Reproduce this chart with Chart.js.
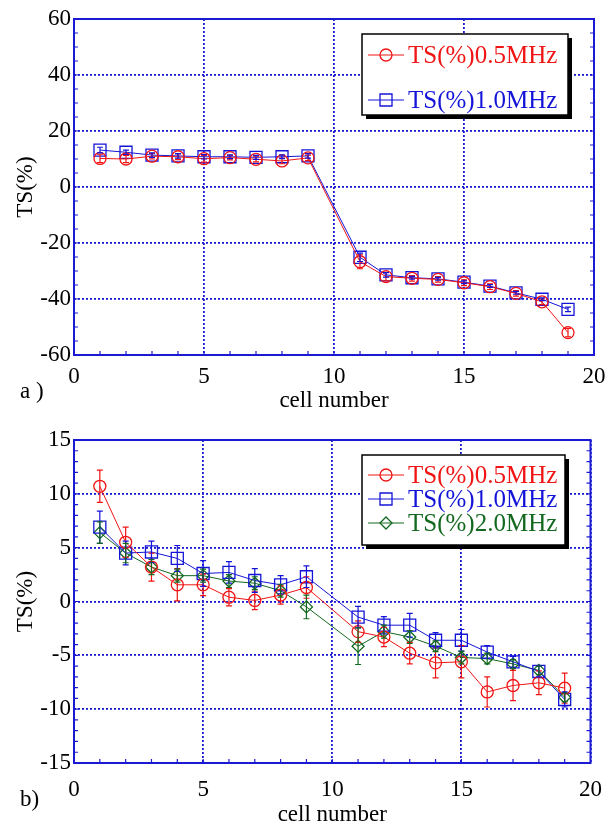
<!DOCTYPE html>
<html lang="en">
<head>
  <meta charset="UTF-8">
  <title>TS(%) vs cell number</title>
  <script src="https://cdn.jsdelivr.net/npm/chart.js"></script>
  <style>
    body { margin: 0; background: #fff; }
    #wrap { position: relative; width: 615px; height: 829px; }
    canvas { position: absolute; left: 0; }
    #chartA { top: 0; }
    #chartB { top: 415px; }
    .tag { position: absolute; left: 20px; font-family: 'Liberation Serif', serif; font-size: 23px; line-height: 26px; color: #000; }
  </style>
</head>
<body>
<div id="wrap">
  <canvas id="chartA" width="615" height="415"></canvas>
  <canvas id="chartB" width="615" height="414"></canvas>
  <div class="tag" style="top:378px">a )</div>
  <div class="tag" style="top:786px">b)</div>
</div>

<script>
  // cell numbers (no cell 10)
  const cells = [1, 2, 3, 4, 5, 6, 7, 8, 9, 11, 12, 13, 14, 15, 16, 17, 18, 19];

  // panel a)
  const tsA_05 = [10.2, 10.0, 11.0, 10.8, 10.1, 10.5, 9.9, 9.3, 10.4, -26.7, -32.0, -32.6, -33.0, -34.2, -35.6, -38.0, -41.0, -52.0];
  const errA_05 = [1.5, 1.3, 1.0, 1.0, 1.2, 0.8, 0.9, 1.0, 1.0, 2.5, 1.5, 1.0, 1.0, 1.0, 1.0, 1.0, 1.0, 1.5];
  const tsA_10 = [13.2, 12.4, 11.4, 11.1, 10.8, 10.8, 10.6, 10.8, 11.1, -25.1, -31.4, -32.4, -32.8, -34.0, -35.4, -37.8, -40.1, -43.7];
  const errA_10 = [1.0, 0.8, 0.8, 0.8, 0.8, 0.7, 0.7, 0.7, 0.8, 1.5, 0.8, 0.5, 0.5, 0.5, 0.5, 0.5, 0.5, 0.8];

  // panel b)
  const tsB_05 = [10.7, 5.5, 3.2, 1.55, 1.55, 0.4, 0.1, 0.6, 1.3, -2.8, -3.3, -4.8, -5.7, -5.6, -8.4, -7.8, -7.55, -8.05];
  const errB_05 = [1.5, 1.4, 1.3, 1.5, 1.0, 0.8, 0.85, 0.85, 1.0, 1.0, 0.9, 1.0, 1.4, 1.5, 1.4, 1.4, 1.1, 1.4];
  const tsB_10 = [6.9, 4.5, 4.6, 4.0, 2.6, 2.7, 1.95, 1.55, 2.3, -1.45, -2.2, -2.2, -3.6, -3.6, -4.7, -5.6, -6.5, -9.1];
  const errB_10 = [1.5, 1.1, 1.0, 1.2, 1.2, 1.0, 1.1, 0.85, 1.0, 1.0, 0.8, 1.1, 0.7, 1.0, 0.6, 0.5, 0.5, 0.7];
  const tsB_20 = [6.4, 4.5, 3.2, 2.4, 2.4, 1.9, 1.7, 1.0, -0.5, -4.15, -2.8, -3.3, -4.15, -5.2, -5.3, -5.8, -6.4, -8.9];
  const errB_20 = [1.0, 0.9, 0.7, 0.6, 0.6, 0.6, 0.6, 0.6, 1.1, 1.7, 0.6, 0.6, 0.5, 0.6, 0.5, 0.4, 0.4, 0.4];

  const RED = '#f01414', BLUE = '#1414d8', GREEN = '#13681f', FRAME = '#1a1ad2';
  const SERIF = "'Liberation Serif', 'Times New Roman', serif";

  function series(label, ys, err, color, style, r) {
    return {
      label, err,
      data: cells.map((c, i) => ({ x: c, y: ys[i] })),
      borderColor: color, borderWidth: 1,
      pointStyle: style, pointRadius: r, pointHoverRadius: r,
      pointBorderColor: color, pointBackgroundColor: 'rgba(0,0,0,0)', pointBorderWidth: 1.3,
      fill: false, tension: 0
    };
  }

  function marker(ctx, style, x, y, r) {
    ctx.beginPath();
    if (style === 'circle') ctx.arc(x, y, r, 0, Math.PI * 2);
    else if (style === 'rect') { const s = r * Math.SQRT1_2; ctx.rect(x - s, y - s, 2 * s, 2 * s); }
    else { ctx.moveTo(x - r, y); ctx.lineTo(x, y - r); ctx.lineTo(x + r, y); ctx.lineTo(x, y + r); ctx.closePath(); }
    ctx.stroke();
  }

  // error bars, frame, minor ticks and the boxed legend
  const decor = {
    id: 'decor',
    afterDatasetsDraw(chart) {
      const ctx = chart.ctx, xs = chart.scales.x, ys = chart.scales.y;
      chart.data.datasets.forEach(ds => {
        ctx.save();
        ctx.strokeStyle = ds.borderColor;
        ctx.lineWidth = 1.2;
        ds.data.forEach((p, i) => {
          const px = xs.getPixelForValue(p.x);
          const t = ys.getPixelForValue(p.y + ds.err[i]);
          const b = ys.getPixelForValue(p.y - ds.err[i]);
          ctx.beginPath();
          ctx.moveTo(px, t); ctx.lineTo(px, b);
          ctx.moveTo(px - 3, t); ctx.lineTo(px + 3, t);
          ctx.moveTo(px - 3, b); ctx.lineTo(px + 3, b);
          ctx.stroke();
        });
        ctx.restore();
      });
    },
    afterDraw(chart, args, opts) {
      const ctx = chart.ctx, a = chart.chartArea, xs = chart.scales.x, ys = chart.scales.y;
      ctx.save();
      ctx.strokeStyle = FRAME;
      ctx.lineWidth = 2;
      ctx.strokeRect(a.left, a.top, a.right - a.left, a.bottom - a.top);
      ctx.lineWidth = 1.2;
      ctx.beginPath();
      for (let v = xs.min; v <= xs.max; v += opts.xMinor) {
        const px = xs.getPixelForValue(v);
        ctx.moveTo(px, a.bottom); ctx.lineTo(px, a.bottom - 4);
      }
      for (let v = ys.min; v <= ys.max; v += opts.yMinor) {
        const py = ys.getPixelForValue(v);
        ctx.moveTo(a.left, py); ctx.lineTo(a.left + 4, py);
        ctx.moveTo(a.right, py); ctx.lineTo(a.right - 4, py);
      }
      ctx.stroke();

      // legend box with shadow
      const L = opts.legend;
      ctx.fillStyle = '#000';
      ctx.fillRect(L.x + 4, L.y + 4, L.w, L.h);
      ctx.fillStyle = '#fff';
      ctx.fillRect(L.x, L.y, L.w, L.h);
      ctx.strokeStyle = '#000';
      ctx.lineWidth = 1.5;
      ctx.strokeRect(L.x, L.y, L.w, L.h);
      ctx.font = '25px ' + SERIF;
      ctx.textBaseline = 'middle';
      chart.data.datasets.forEach((ds, i) => {
        const ry = L.rows[i];
        ctx.strokeStyle = ds.borderColor;
        ctx.lineWidth = 1;
        ctx.beginPath();
        ctx.moveTo(L.x + 6, ry); ctx.lineTo(L.x + 42, ry);
        ctx.stroke();
        ctx.lineWidth = 1.3;
        marker(ctx, ds.pointStyle, L.x + 24, ry, ds.pointStyle === 'rect' ? 8.5 : 6);
        ctx.fillStyle = ds.borderColor;
        ctx.fillText(ds.label, L.x + 46, ry + 1);
      });
      ctx.restore();
    }
  };

  function makeChart(id, datasets, c) {
    const tickFont = { family: SERIF, size: 23 };
    return new Chart(document.getElementById(id), {
      type: 'line',
      data: { datasets },
      plugins: [decor],
      options: {
        responsive: false,
        animation: false,
        layout: { padding: { top: c.top, right: 21, left: 0, bottom: 0 } },
        plugins: {
          legend: { display: false },
          tooltip: { enabled: false },
          decor: { xMinor: 1, yMinor: c.yMinor, legend: c.legend }
        },
        scales: {
          x: {
            type: 'linear', min: 0, max: 20,
            ticks: { stepSize: 5, padding: c.xPad, color: '#000', font: tickFont, maxRotation: 0 },
            grid: { color: FRAME, lineWidth: 1.8, drawTicks: false },
            border: { display: false, dash: [2, 2] },
            title: { display: true, text: 'cell number', color: '#000', font: tickFont, padding: { top: 0, bottom: c.titlePad } },
            afterFit: s => { s.height = c.xh; }
          },
          y: {
            min: c.yMin, max: c.yMax,
            ticks: { stepSize: c.yStep, padding: 3, color: '#000', font: tickFont },
            grid: { color: FRAME, lineWidth: 1.8, drawTicks: false },
            border: { display: false, dash: [2, 2] },
            title: { display: true, text: 'TS(%)', color: '#000', font: tickFont, padding: { top: 12, bottom: 0 } },
            afterFit: s => { s.width = 74; }
          }
        }
      }
    });
  }

  makeChart('chartA', [
    series('TS(%)0.5MHz', tsA_05, errA_05, RED, 'circle', 6),
    series('TS(%)1.0MHz', tsA_10, errA_10, BLUE, 'rect', 8.5)
  ], { top: 19, xh: 60, xPad: 8, titlePad: 0, yMin: -60, yMax: 60, yStep: 20, yMinor: 5,
       legend: { x: 362, y: 34, w: 206, h: 81, rows: [55, 100] } });

  makeChart('chartB', [
    series('TS(%)0.5MHz', tsB_05, errB_05, RED, 'circle', 6),
    series('TS(%)1.0MHz', tsB_10, errB_10, BLUE, 'rect', 8.5),
    series('TS(%)2.0MHz', tsB_20, errB_20, GREEN, 'rectRot', 6)
  ], { top: 25, xh: 66, xPad: 13, titlePad: 0, yMin: -15, yMax: 15, yStep: 5, yMinor: 1,
       legend: { x: 362, y: 40, w: 203, h: 90, rows: [60, 84, 108] } });
</script>
</body>
</html>
